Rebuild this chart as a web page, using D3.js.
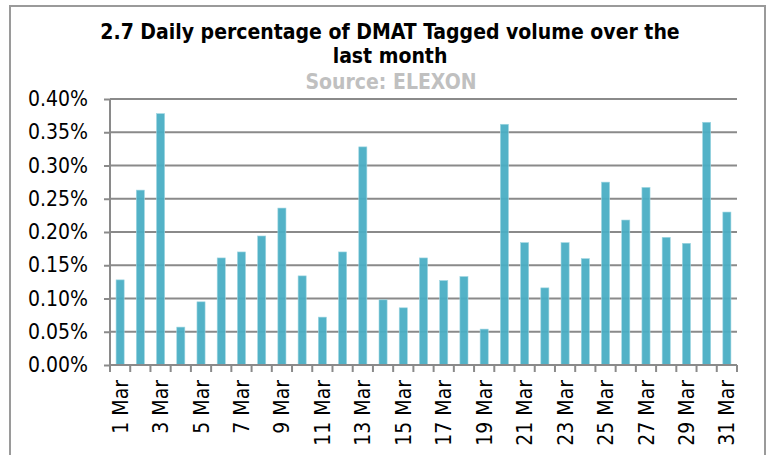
<!DOCTYPE html>
<html>
<head>
<meta charset="utf-8">
<script src="https://cdn.jsdelivr.net/npm/d3@7"></script>
<style>
    body { margin: 0; background: #fff; }
    svg { display: block; }
    text { font-family: "DejaVu Sans Condensed", "DejaVu Sans", sans-serif; font-stretch: condensed; }
</style>
</head>
<body>
<svg id="chart" width="771" height="455"></svg>
<script>
// days of the month shown on the x axis
const days = ["1 Mar", "2 Mar", "3 Mar", "4 Mar", "5 Mar", "6 Mar", "7 Mar", "8 Mar", "9 Mar", "10 Mar",
    "11 Mar", "12 Mar", "13 Mar", "14 Mar", "15 Mar", "16 Mar", "17 Mar", "18 Mar", "19 Mar", "20 Mar",
    "21 Mar", "22 Mar", "23 Mar", "24 Mar", "25 Mar", "26 Mar", "27 Mar", "28 Mar", "29 Mar", "30 Mar", "31 Mar"];

// percentage of DMAT tagged volume (in %)
const dmatPct = [0.128, 0.263, 0.378, 0.057, 0.095, 0.161, 0.170, 0.194, 0.236, 0.134,
    0.072, 0.170, 0.328, 0.098, 0.086, 0.161, 0.127, 0.133, 0.054, 0.362,
    0.184, 0.116, 0.184, 0.160, 0.275, 0.218, 0.267, 0.192, 0.183, 0.365, 0.230];

const dayLabels = ["1 Mar", "3 Mar", "5 Mar", "7 Mar", "9 Mar", "11 Mar", "13 Mar", "15 Mar",
    "17 Mar", "19 Mar", "21 Mar", "23 Mar", "25 Mar", "27 Mar", "29 Mar", "31 Mar"];
const yTicks = [0, 0.05, 0.10, 0.15, 0.20, 0.25, 0.30, 0.35, 0.40];

const titleLines = ["2.7 Daily percentage of DMAT Tagged volume over the", "last month"];
const sourceText = "Source: ELEXON";

let svg = d3.select("#chart");
let plot = { left: 110, right: 737, top: 99, bottom: 365 };

// outer frame
svg.append("rect")
    .attr("x", 10).attr("y", 6)
    .attr("width", 755).attr("height", 470)
    .style("fill", "#fff")
    .style("stroke", "#9a9a9a")
    .style("stroke-width", "2px");

// title
svg.selectAll("text.title")
    .data(titleLines)
    .enter()
    .append("text")
    .attr("class", "title")
    .attr("x", 390)
    .attr("y", (d, i) => 39 + i * 24)
    .attr("text-anchor", "middle")
    .style("font-size", "21px")
    .style("font-weight", "bold")
    .style("fill", "#000")
    .text(d => d);

svg.append("text")
    .attr("x", 391).attr("y", 89)
    .attr("text-anchor", "middle")
    .style("font-size", "21px")
    .style("font-weight", "bold")
    .style("fill", "#c0c0c0")
    .text(sourceText);

let x = d3.scaleBand().domain(days).range([plot.left, plot.right]).paddingInner(0.6).paddingOuter(0.3);
let y = d3.scaleLinear().domain([0, 0.40]).range([plot.bottom, plot.top]);

// gridlines
svg.append("g")
    .selectAll("line")
    .data(yTicks)
    .enter()
    .append("line")
    .attr("x1", plot.left).attr("x2", plot.right)
    .attr("y1", d => y(d)).attr("y2", d => y(d))
    .style("stroke", "#8a8a8a")
    .style("stroke-width", "2px");

// bars
svg.append("g")
    .selectAll("rect")
    .data(dmatPct)
    .enter()
    .append("rect")
    .attr("x", (d, i) => x(days[i]))
    .attr("y", d => y(d))
    .attr("width", x.bandwidth())
    .attr("height", d => plot.bottom - y(d))
    .style("fill", "#4aaec4")
    .style("fill-opacity", 0.95)
    .style("stroke", "#9fd6e2")
    .style("stroke-width", "0.6px");

// y axis
let yAxis = svg.append("g")
    .attr("transform", "translate(" + plot.left + ",0)")
    .call(d3.axisLeft(y).tickValues(yTicks).tickSize(6).tickPadding(16).tickFormat(d => d3.format(".2f")(d) + "%"));
yAxis.selectAll("line").style("stroke", "#8a8a8a").style("stroke-width", "2px");
yAxis.select(".domain").style("stroke", "#8a8a8a").style("stroke-width", "2px").attr("d", "M0," + plot.top + "V" + plot.bottom);
yAxis.selectAll("text").style("font-size", "21px").style("fill", "#000").style("font-family", null);

// x axis: ticks on band boundaries, labels on odd days
let xAxisG = svg.append("g").attr("transform", "translate(0," + plot.bottom + ")");
xAxisG.append("line")
    .attr("x1", plot.left).attr("x2", plot.right)
    .style("stroke", "#8a8a8a").style("stroke-width", "2px");
let step = x.step();
xAxisG.selectAll("line.tick")
    .data(days.concat(["end"]))
    .enter()
    .append("line")
    .attr("class", "tick")
    .attr("x1", (d, i) => plot.left + i * step)
    .attr("x2", (d, i) => plot.left + i * step)
    .attr("y1", 0).attr("y2", 7)
    .style("stroke", "#8a8a8a").style("stroke-width", "2px");

xAxisG.selectAll("text")
    .data(dayLabels)
    .enter()
    .append("text")
    .attr("transform", d => "translate(" + (x(d) + x.bandwidth() / 2) + ",15) rotate(-90)")
    .attr("text-anchor", "end")
    .attr("dy", "0.36em")
    .style("font-size", "21px")
    .style("fill", "#000")
    .text(d => d);
</script>
</body>
</html>
